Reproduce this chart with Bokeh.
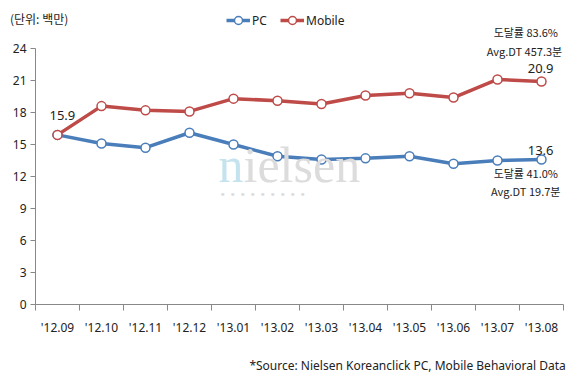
from bokeh.plotting import figure
from bokeh.models import (ColumnDataSource, Range1d, FixedTicker, Label, Legend, LegendItem)
from bokeh.embed import file_html
from bokeh.resources import INLINE

months = ["'12.09", "'12.10", "'12.11", "'12.12", "'13.01", "'13.02",
          "'13.03", "'13.04", "'13.05", "'13.06", "'13.07", "'13.08"]
pc = [15.9, 15.1, 14.7, 16.1, 15.0, 13.9, 13.6, 13.7, 13.9, 13.2, 13.5, 13.6]
mobile = [15.9, 18.6, 18.2, 18.1, 19.3, 19.1, 18.8, 19.6, 19.8, 19.4, 21.1, 20.9]
y_ticks = [0, 3, 6, 9, 12, 15, 18, 21, 24]

FONT = "Noto Sans CJK KR"
LATIN = "Noto Sans"
BLUE = "#4A7EBB"
RED = "#BE4B48"
TXT = "#222222"
W, H = 574, 384

xs = [i + 0.5 for i in range(len(months))]
src = ColumnDataSource(dict(x=xs, pc=pc, mobile=mobile))

# frame covers the whole canvas; axes are pinned at x=0 / y=0
p = figure(width=W, height=H, output_backend="svg", toolbar_location=None,
           x_range=Range1d(-35 / 44, (W - 35) / 44),
           y_range=Range1d((304 - H) / 10.6667, 304 / 10.6667),
           min_border_left=0, min_border_right=0, min_border_top=0, min_border_bottom=0)
p.outline_line_color = None
p.xgrid.visible = False
p.ygrid.visible = False
p.background_fill_color = "white"

# watermark
p.add_layout(Label(x=218, y=H - 192, x_units="screen", y_units="screen", text="n",
                   text_font="Liberation Serif", text_font_size="50px", text_color="#c5e3ef"))
p.add_layout(Label(x=243, y=H - 192, x_units="screen", y_units="screen", text="ielsen",
                   text_font="Liberation Serif", text_font_size="50px", text_color="#dcdcdc"))
p.add_layout(Label(x=219, y=H - 200, x_units="screen", y_units="screen", text="•  •  •  •  •  •  •  •  •",
                   text_font="DejaVu Sans", text_font_size="11px", text_color="#dddddd"))

rp = p.line("x", "pc", source=src, line_color=BLUE, line_width=3.5)
cp = p.scatter("x", "pc", source=src, size=9, fill_color="white", line_color=BLUE, line_width=1.5)
rm = p.line("x", "mobile", source=src, line_color=RED, line_width=3.5)
cm = p.scatter("x", "mobile", source=src, size=9, fill_color="white", line_color=RED, line_width=1.5)

# axes
p.xaxis.fixed_location = 0
p.yaxis.fixed_location = 0
p.xaxis.bounds = (0, len(months))
p.yaxis.bounds = (0, 24)
p.xaxis.ticker = FixedTicker(ticks=xs, minor_ticks=list(range(len(months) + 1)))
p.xaxis.major_label_overrides = {x: m for x, m in zip(xs, months)}
p.xaxis.major_tick_out = 0
p.xaxis.major_tick_in = 0
p.xaxis.minor_tick_out = 6
p.xaxis.minor_tick_in = 0
p.xaxis.minor_tick_line_color = "#888888"
p.xaxis.axis_line_color = "#888888"
p.xaxis.major_label_standoff = 8
p.yaxis.ticker = FixedTicker(ticks=y_ticks)
p.yaxis.major_tick_out = 5
p.yaxis.major_tick_in = 0
p.yaxis.minor_tick_line_color = None
p.yaxis.axis_line_color = "#888888"
p.yaxis.major_tick_line_color = "#888888"
p.yaxis.major_label_standoff = 4
for ax in (p.xaxis, p.yaxis):
    ax.major_label_text_font = LATIN
    ax.major_label_text_font_size = "12px"
    ax.major_label_text_color = TXT

def lab(x, y, t, align="center", size="12px", baseline="middle", font=FONT):
    p.add_layout(Label(x=x, y=y, text=t, text_font=font, text_font_size=size,
                       text_color=TXT, text_align=align, text_baseline=baseline))

lab(xs[0] + 0.11, 17.7, f"{mobile[0]:.1f}", size="13px", font=LATIN)
lab(xs[-1] - 0.02, 22.1, f"{mobile[-1]:.1f}", size="13px", font=LATIN)
lab(xs[-1] - 0.02, 14.45, f"{pc[-1]:.1f}", size="13px", font=LATIN)
lab(11.93, 25.5, "도달률  83.6%", align="right", size="11px")
lab(11.97, 23.8, "Avg.DT 457.3분", align="right", size="11px")
lab(11.93, 12.37, "도달률  41.0%", align="right", size="11px")
lab(11.93, 10.6, "Avg.DT 19.7분", align="right", size="11px")
lab(-0.58, 26.8, "(단위: 백만)", align="left", size="12px")
lab(12.05, -5.72, "*Source: Nielsen Koreanclick PC, Mobile Behavioral Data", align="right",
    size="12px", font=LATIN)

legend = Legend(items=[LegendItem(label="PC", renderers=[rp, cp]),
                       LegendItem(label="Mobile", renderers=[rm, cm])],
                orientation="horizontal", location=(226, H - 30),
                label_text_font=LATIN, label_text_font_size="12px", label_text_color=TXT,
                glyph_width=24, label_standoff=2, spacing=8, padding=2, margin=0,
                border_line_color=None, background_fill_alpha=0)
p.add_layout(legend, "center")

open("out.html", "w").write(file_html(p, INLINE))
